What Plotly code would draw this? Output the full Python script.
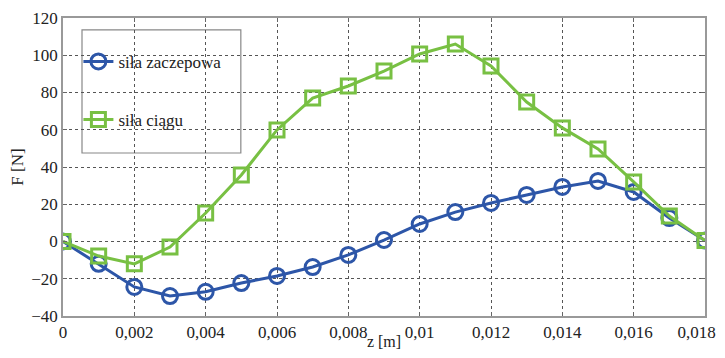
import plotly.graph_objects as go

z = [0, 0.001, 0.002, 0.003, 0.004, 0.005, 0.006, 0.007, 0.008, 0.009,
     0.010, 0.011, 0.012, 0.013, 0.014, 0.015, 0.016, 0.017, 0.018]
sila_zaczepowa = [0, -12, -24.4, -29.3, -27, -22.3, -18.5, -13.7, -7.2, 0.8,
                  9.4, 15.8, 20.7, 25, 29.3, 32.5, 26.6, 12.6, 0.5]
sila_ciagu = [0, -7.8, -12, -3, 15.3, 35.7, 59.9, 77, 83.5, 91.5,
              100.7, 106, 94.2, 74.9, 61, 49.7, 32, 13.7, 0.5]
x_tickvals = [0, 0.002, 0.004, 0.006, 0.008, 0.010, 0.012, 0.014, 0.016, 0.018]
x_ticktext = ["0", "0,002", "0,004", "0,006", "0,008", "0,01", "0,012", "0,014", "0,016",
              "0,018\u2007\u2007"]
y_tickvals = [-40, -20, 0, 20, 40, 60, 80, 100, 120]
y_ticktext = ["\u221240", "\u221220", "0", "20", "40", "60", "80", "100", "120"]

blue = "#2D56A8"
green = "#78C043"
font = "Times New Roman, Liberation Serif, serif"

fig = go.Figure()
fig.add_trace(go.Scatter(
    x=z, y=sila_zaczepowa, name="siła zaczepowa", mode="lines+markers",
    line=dict(color=blue, width=3),
    marker=dict(symbol="circle-open", size=15, color=blue, line=dict(width=3)),
    legendgroup="a"))
fig.add_trace(go.Scatter(
    x=z, y=sila_ciagu, name="siła ciągu", mode="lines+markers",
    line=dict(color=green, width=3),
    marker=dict(symbol="square-open", size=14, color=green, line=dict(width=3)),
    legendgroup="b"))

axis_common = dict(
    showline=True, linecolor="#999999", linewidth=1.5, mirror="ticks",
    showgrid=True, gridcolor="#555555", griddash="dot", gridwidth=1,
    ticks="inside", ticklen=4, tickcolor="#666666", automargin=False,
    ticklabeloverflow="allow",
    zeroline=False, tickfont=dict(family=font, size=17, color="#222222"),
)

fig.update_layout(
    width=717, height=342,
    margin=dict(l=55, r=20, t=10, b=34),
    plot_bgcolor="white", paper_bgcolor="white",
    font=dict(family=font, size=17, color="#222222"),
    xaxis=dict(range=[0, 0.018], tickvals=x_tickvals, ticktext=x_ticktext,
               title=dict(text="z [m]", standoff=5, font=dict(family=font, size=16)),
               **axis_common),
    yaxis=dict(range=[-40, 120], tickvals=y_tickvals, ticktext=y_ticktext,
               title=dict(text="F [N]", standoff=12, font=dict(family=font, size=17)),
               **axis_common),
    legend=dict(x=0.024, y=0.913, xanchor="left", yanchor="top",
                bgcolor="rgba(0,0,0,0)", borderwidth=0,
                font=dict(family=font, size=17), tracegroupgap=33,
                itemwidth=30),
    showlegend=True,
    shapes=[dict(type="rect", xref="paper", yref="paper",
                 x0=0.0296, x1=0.277, y0=0.547, y1=0.96,
                 line=dict(color="#888888", width=1.2),
                 fillcolor="white", layer="below")],
)

fig.write_html("out.html")
